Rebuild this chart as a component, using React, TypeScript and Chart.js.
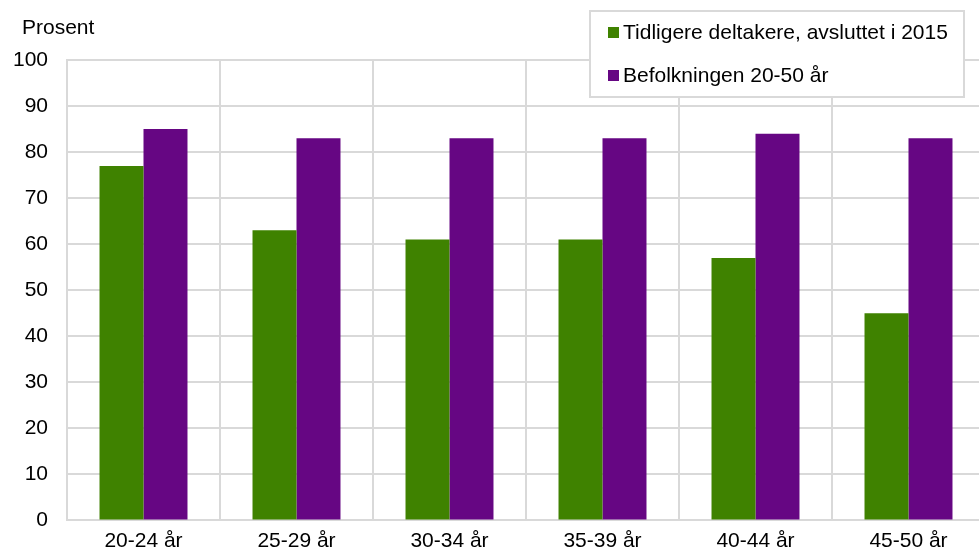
import React, { useEffect, useRef } from "react";
import { Chart, registerables } from "chart.js";

Chart.register(...registerables);

const categories = ["20-24 år", "25-29 år", "30-34 år", "35-39 år", "40-44 år", "45-50 år"];
const seriesNames = ["Tidligere deltakere, avsluttet i 2015", "Befolkningen 20-50 år"];
const tidligere = [77, 63, 61, 61, 57, 45];
const befolkningen = [85, 83, 83, 83, 84, 83];
const yTicks = [0, 10, 20, 30, 40, 50, 60, 70, 80, 90, 100];
const yTitle = "Prosent";

const GREEN = "#3f8200";
const PURPLE = "#660683";
const GRID = "#d9d9d9";
const FONT = "'Liberation Sans', Arial, sans-serif";
const FS = 21;

export default function App() {
  const ref = useRef<HTMLCanvasElement | null>(null);

  useEffect(() => {
    if (!ref.current) return;
    const overlay = {
      id: "overlay",
      afterDraw(chart: any) {
        const ctx = chart.ctx;
        ctx.save();
        ctx.font = `${FS}px ${FONT}`;
        ctx.fillStyle = "#000";
        ctx.textBaseline = "middle";
        ctx.textAlign = "left";
        ctx.fillText(yTitle, 22, 28);
        const bx = 590, by = 11, bw = 374, bh = 86;
        ctx.fillStyle = "#fff";
        ctx.fillRect(bx, by, bw, bh);
        ctx.strokeStyle = GRID;
        ctx.lineWidth = 2;
        ctx.strokeRect(bx, by, bw, bh);
        const rows = [32, 75];
        chart.data.datasets.forEach((ds: any, i: number) => {
          ctx.fillStyle = ds.backgroundColor;
          ctx.fillRect(608, rows[i] - 5, 11, 11);
          ctx.fillStyle = "#000";
          ctx.fillText(ds.label, 623, rows[i] + 1);
        });
        ctx.restore();
      },
    };
    const chart = new Chart(ref.current, {
      type: "bar",
      data: {
        labels: categories,
        datasets: [
          { label: seriesNames[0], data: tidligere, backgroundColor: GREEN },
          { label: seriesNames[1], data: befolkningen, backgroundColor: PURPLE },
        ],
      },
      options: {
        animation: false,
        responsive: false,
        devicePixelRatio: 1,
        datasets: { bar: { barPercentage: 1, categoryPercentage: 0.575 } },
        layout: { padding: { top: 60, left: 0, right: 1, bottom: 0 } },
        plugins: { legend: { display: false }, tooltip: { enabled: false } },
        scales: {
          x: {
            grid: { color: GRID, lineWidth: 2, drawTicks: false, offset: true },
            border: { color: GRID, width: 2 },
            ticks: { color: "#000", font: { family: FONT, size: FS }, padding: 8, maxRotation: 0 },
            afterFit: (axis: any) => { axis.height = 28; },
          },
          y: {
            min: 0,
            max: 100,
            afterBuildTicks: (axis: any) => { axis.ticks = yTicks.map((v) => ({ value: v })); },
            grid: { color: GRID, lineWidth: 2, drawTicks: false },
            border: { color: GRID, width: 2 },
            ticks: { color: "#000", font: { family: FONT, size: FS }, padding: 19 },
            afterFit: (axis: any) => { axis.width = 67; },
          },
        },
      },
      plugins: [overlay],
    });
    return () => chart.destroy();
  }, []);

  return (
    <div style={{ position: "fixed", left: 0, top: 0, width: 979, height: 552, overflow: "hidden", background: "#fff" }}>
      <canvas ref={ref} width={986} height={552} style={{ display: "block", width: 986, height: 552 }} />
    </div>
  );
}
